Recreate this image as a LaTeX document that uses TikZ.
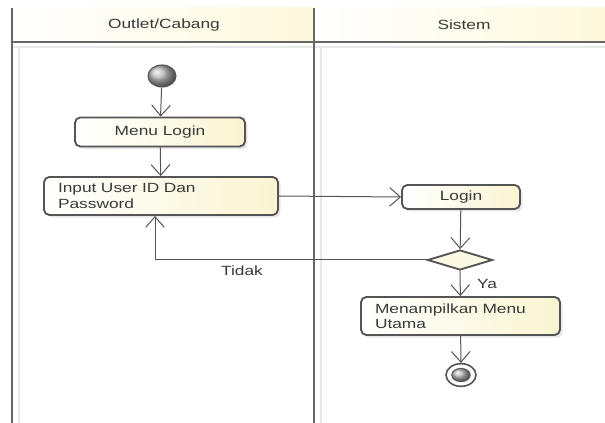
\documentclass[tikz,border=0pt]{standalone}
\usepackage{fontspec}
\setmainfont{Liberation Sans}[FakeStretch=1.3]
\usetikzlibrary{arrows.meta,shapes.geometric,shadows}
\definecolor{linegray}{HTML}{555555}
\definecolor{textgray}{HTML}{3A3A3A}
\definecolor{boxyellow}{HTML}{F9F5D2}
\definecolor{headyellow}{HTML}{FDF9DC}
\tikzset{
  laneline/.style={draw=linegray!90, line width=2.2pt},
  lanefaint/.style={draw=gray!18, line width=0.8pt},
  lanetitle/.style={font=\fontsize{10}{12}\selectfont, text=textgray},
  action/.style={draw=linegray, line width=1.4pt, rounded corners=4pt,
    left color=white, right color=boxyellow, inner xsep=10.5pt,
    font=\fontsize{10}{11.5}\selectfont, text=textgray,
    drop shadow={opacity=0.18, shadow xshift=2pt, shadow yshift=-2pt}},
  decision/.style={diamond, draw=linegray, line width=1.4pt, fill=boxyellow!60,
    minimum width=48.75pt, minimum height=15pt, inner sep=0pt},
  flow/.style={draw=linegray, line width=0.75pt, -{Straight Barb[length=8pt,width=14pt]}},
  guard/.style={font=\fontsize{10}{12}\selectfont, text=textgray}
}
\begin{document}
\begin{tikzpicture}[x=0.75pt, y=-0.75pt]
			%%%%% START %%%%%
			\useasboundingbox (0,0) rectangle (605,423);
			
			% swimlane heads
			\shade[left color=white, right color=headyellow] (12,8) rectangle (314,42);
			\shade[left color=white, right color=headyellow] (314,8) rectangle (605,42);
			\node[lanetitle] (outlet) at (164,25) {Outlet/Cabang};
			\node[lanetitle] (sistem) at (464,25) {Sistem};
			
			\draw[lanefaint] (19,46) -- (19,423);
			\draw[lanefaint] (321,46) -- (321,423);
			\draw[lanefaint] (12,47) -- (605,47);
			\draw[laneline] (12,42) -- (605,42);
			\draw[laneline] (12,8) -- (12,423);
			\draw[laneline] (314,8) -- (314,423);
			
			% actions
			\node[ellipse, draw=linegray, line width=0.8pt, shading=ball, ball color=gray!55,
				minimum width=21pt, minimum height=16.5pt, inner sep=0pt] (start) at (162,76) {};
			\node[action, minimum width=127.5pt, minimum height=21.75pt] (menulogin) at (160,132) {Menu Login};
			\node[action, minimum width=175.5pt, minimum height=28.5pt, text width=154.5pt, align=left] (input) at (161,196) {Input User ID Dan\\Password};
			\node[action, minimum width=88.5pt, minimum height=18pt] (login) at (461,197) {Login};
			\node[decision] (cek) at (460,260) {};
			\node[action, minimum width=149.25pt, minimum height=28.5pt, text width=128.25pt, align=left] (utama) at (460.5,316) {Menampilkan Menu\\Utama};
			\node[ellipse, draw=linegray, line width=1.2pt, fill=white,
				minimum width=22.5pt, minimum height=17pt, inner sep=0pt] (finish) at (461,375) {};
			\node[ellipse, draw=linegray, line width=0.6pt, shading=ball, ball color=gray!55,
				minimum width=14pt, minimum height=10pt, inner sep=0pt] at (finish) {};
			
			% flows
			\draw[flow] (start) -- (menulogin);
			\draw[flow] (menulogin) -- (input);
			\draw[flow] (input.east) -- (login.west);
			\draw[flow] (login) -- (cek);
			\draw[flow] (cek.west) -| ([xshift=-4.5pt]input.south);
			\draw[flow] (cek) -- (utama);
			\draw[flow] (utama) -- (finish);
			
			\node[guard] (tidak) at (242,271) {Tidak};
			\node[guard] (ya) at (487,284) {Ya};
			%%%%% END %%%%%
\end{tikzpicture}
\end{document}
